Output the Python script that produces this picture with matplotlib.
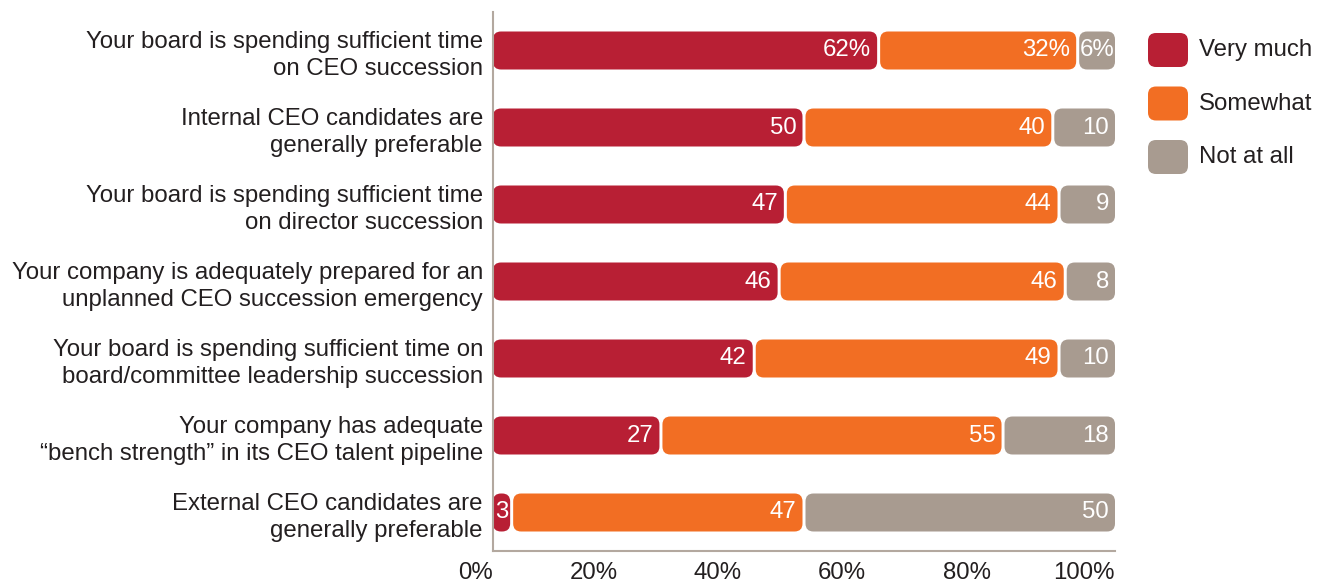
import matplotlib.pyplot as plt
from matplotlib.patches import FancyBboxPatch

plt.rcParams["font.family"] = ["Liberation Sans", "DejaVu Sans"]

# ==================== DATA ====================
statements = [
    "Your board is spending sufficient time\non CEO succession",
    "Internal CEO candidates are\ngenerally preferable",
    "Your board is spending sufficient time\non director succession",
    "Your company is adequately prepared for an\nunplanned CEO succession emergency",
    "Your board is spending sufficient time on\nboard/committee leadership succession",
    "Your company has adequate\n\u201cbench strength\u201d in its CEO talent pipeline",
    "External CEO candidates are\ngenerally preferable",
]
very_much = [62, 50, 47, 46, 42, 27, 3]
somewhat = [32, 40, 44, 46, 49, 55, 47]
not_at_all = [6, 10, 9, 8, 10, 18, 50]

series_names = ["Very much", "Somewhat", "Not at all"]
colors = ["#b81f34", "#f26e23", "#a89b90"]
tick_values = [0, 20, 40, 60, 80, 100]

TEXT = "#231f20"
FS = 17.3

W, H, DPI = 1331, 587, 100
fig = plt.figure(figsize=(W / DPI, H / DPI), dpi=DPI)

# axes placed in pixel terms so the rounded segments can be corrected for aspect
ax_left, ax_right, ax_top, ax_bottom = 493, 1115, 12, 551
ax = fig.add_axes([ax_left / W, (H - ax_bottom) / H,
                   (ax_right - ax_left) / W, (ax_bottom - ax_top) / H])

n = len(statements)
row_px = 77.0
half = (ax_bottom - ax_top) / row_px / 2
ax.set_xlim(0, 100)
ax.set_ylim((n - 1) / 2 + half, (n - 1) / 2 - half)

x_per_px = 100 / (ax_right - ax_left)
y_per_px = (2 * half) / (ax_bottom - ax_top)
aspect = y_per_px / x_per_px
radius = 8 * x_per_px
gap = 3 * x_per_px
bar_h = 38 * y_per_px

for i in range(n):
    vals = [very_much[i], somewhat[i], not_at_all[i]]
    start = 0
    for j, v in enumerate(vals):
        x0 = start + (gap / 2 if j > 0 else 0)
        # rounded totals can exceed 100, keep the bar inside the axis
        x1 = min(start + v, 100) - (gap / 2 if j < len(vals) - 1 else 0)
        box = FancyBboxPatch(
            (x0, i - bar_h / 2), x1 - x0, bar_h,
            boxstyle=f"round,pad=0,rounding_size={radius}",
            mutation_aspect=aspect,
            facecolor=colors[j], edgecolor="none",
        )
        ax.add_patch(box)
        label = f"{v}%" if i == 0 else f"{v}"
        if v < 8:
            ax.text((x0 + x1) / 2, i, label, color="white", fontsize=FS,
                    ha="center", va="center")
        else:
            ax.text(x1 - 6 * x_per_px, i, label, color="white", fontsize=FS,
                    ha="right", va="center")
        start += v

    ax.text(-10 * x_per_px, i + 0.06, statements[i], color=TEXT, fontsize=FS,
            ha="right", va="center", linespacing=1.3)

ax.set_yticks([])
ax.set_xticks(tick_values)
ax.set_xticklabels([f"{t}%" for t in tick_values], fontsize=FS, color=TEXT,
                   ha="right")
ax.tick_params(axis="x", length=0, pad=8)
for side in ["top", "right"]:
    ax.spines[side].set_visible(False)
for side in ["left", "bottom"]:
    ax.spines[side].set_color("#b3a89f")
    ax.spines[side].set_linewidth(1.5)

# legend drawn in pixel coordinates
lx0, lx1, ly0, ly1 = 1130, 1331, 20, 190
leg = fig.add_axes([lx0 / W, (H - ly1) / H, (lx1 - lx0) / W, (ly1 - ly0) / H])
leg.set_xlim(lx0, lx1)
leg.set_ylim(ly1, ly0)
leg.axis("off")
for k, name in enumerate(series_names):
    top = 33 + k * 53.5
    leg.add_patch(FancyBboxPatch(
        (1148, top), 40, 34,
        boxstyle="round,pad=0,rounding_size=8",
        facecolor=colors[k], edgecolor="none",
    ))
    leg.text(1199, top + 17, name, color=TEXT, fontsize=FS,
             ha="left", va="center")

fig.savefig("out.png", dpi=DPI)
